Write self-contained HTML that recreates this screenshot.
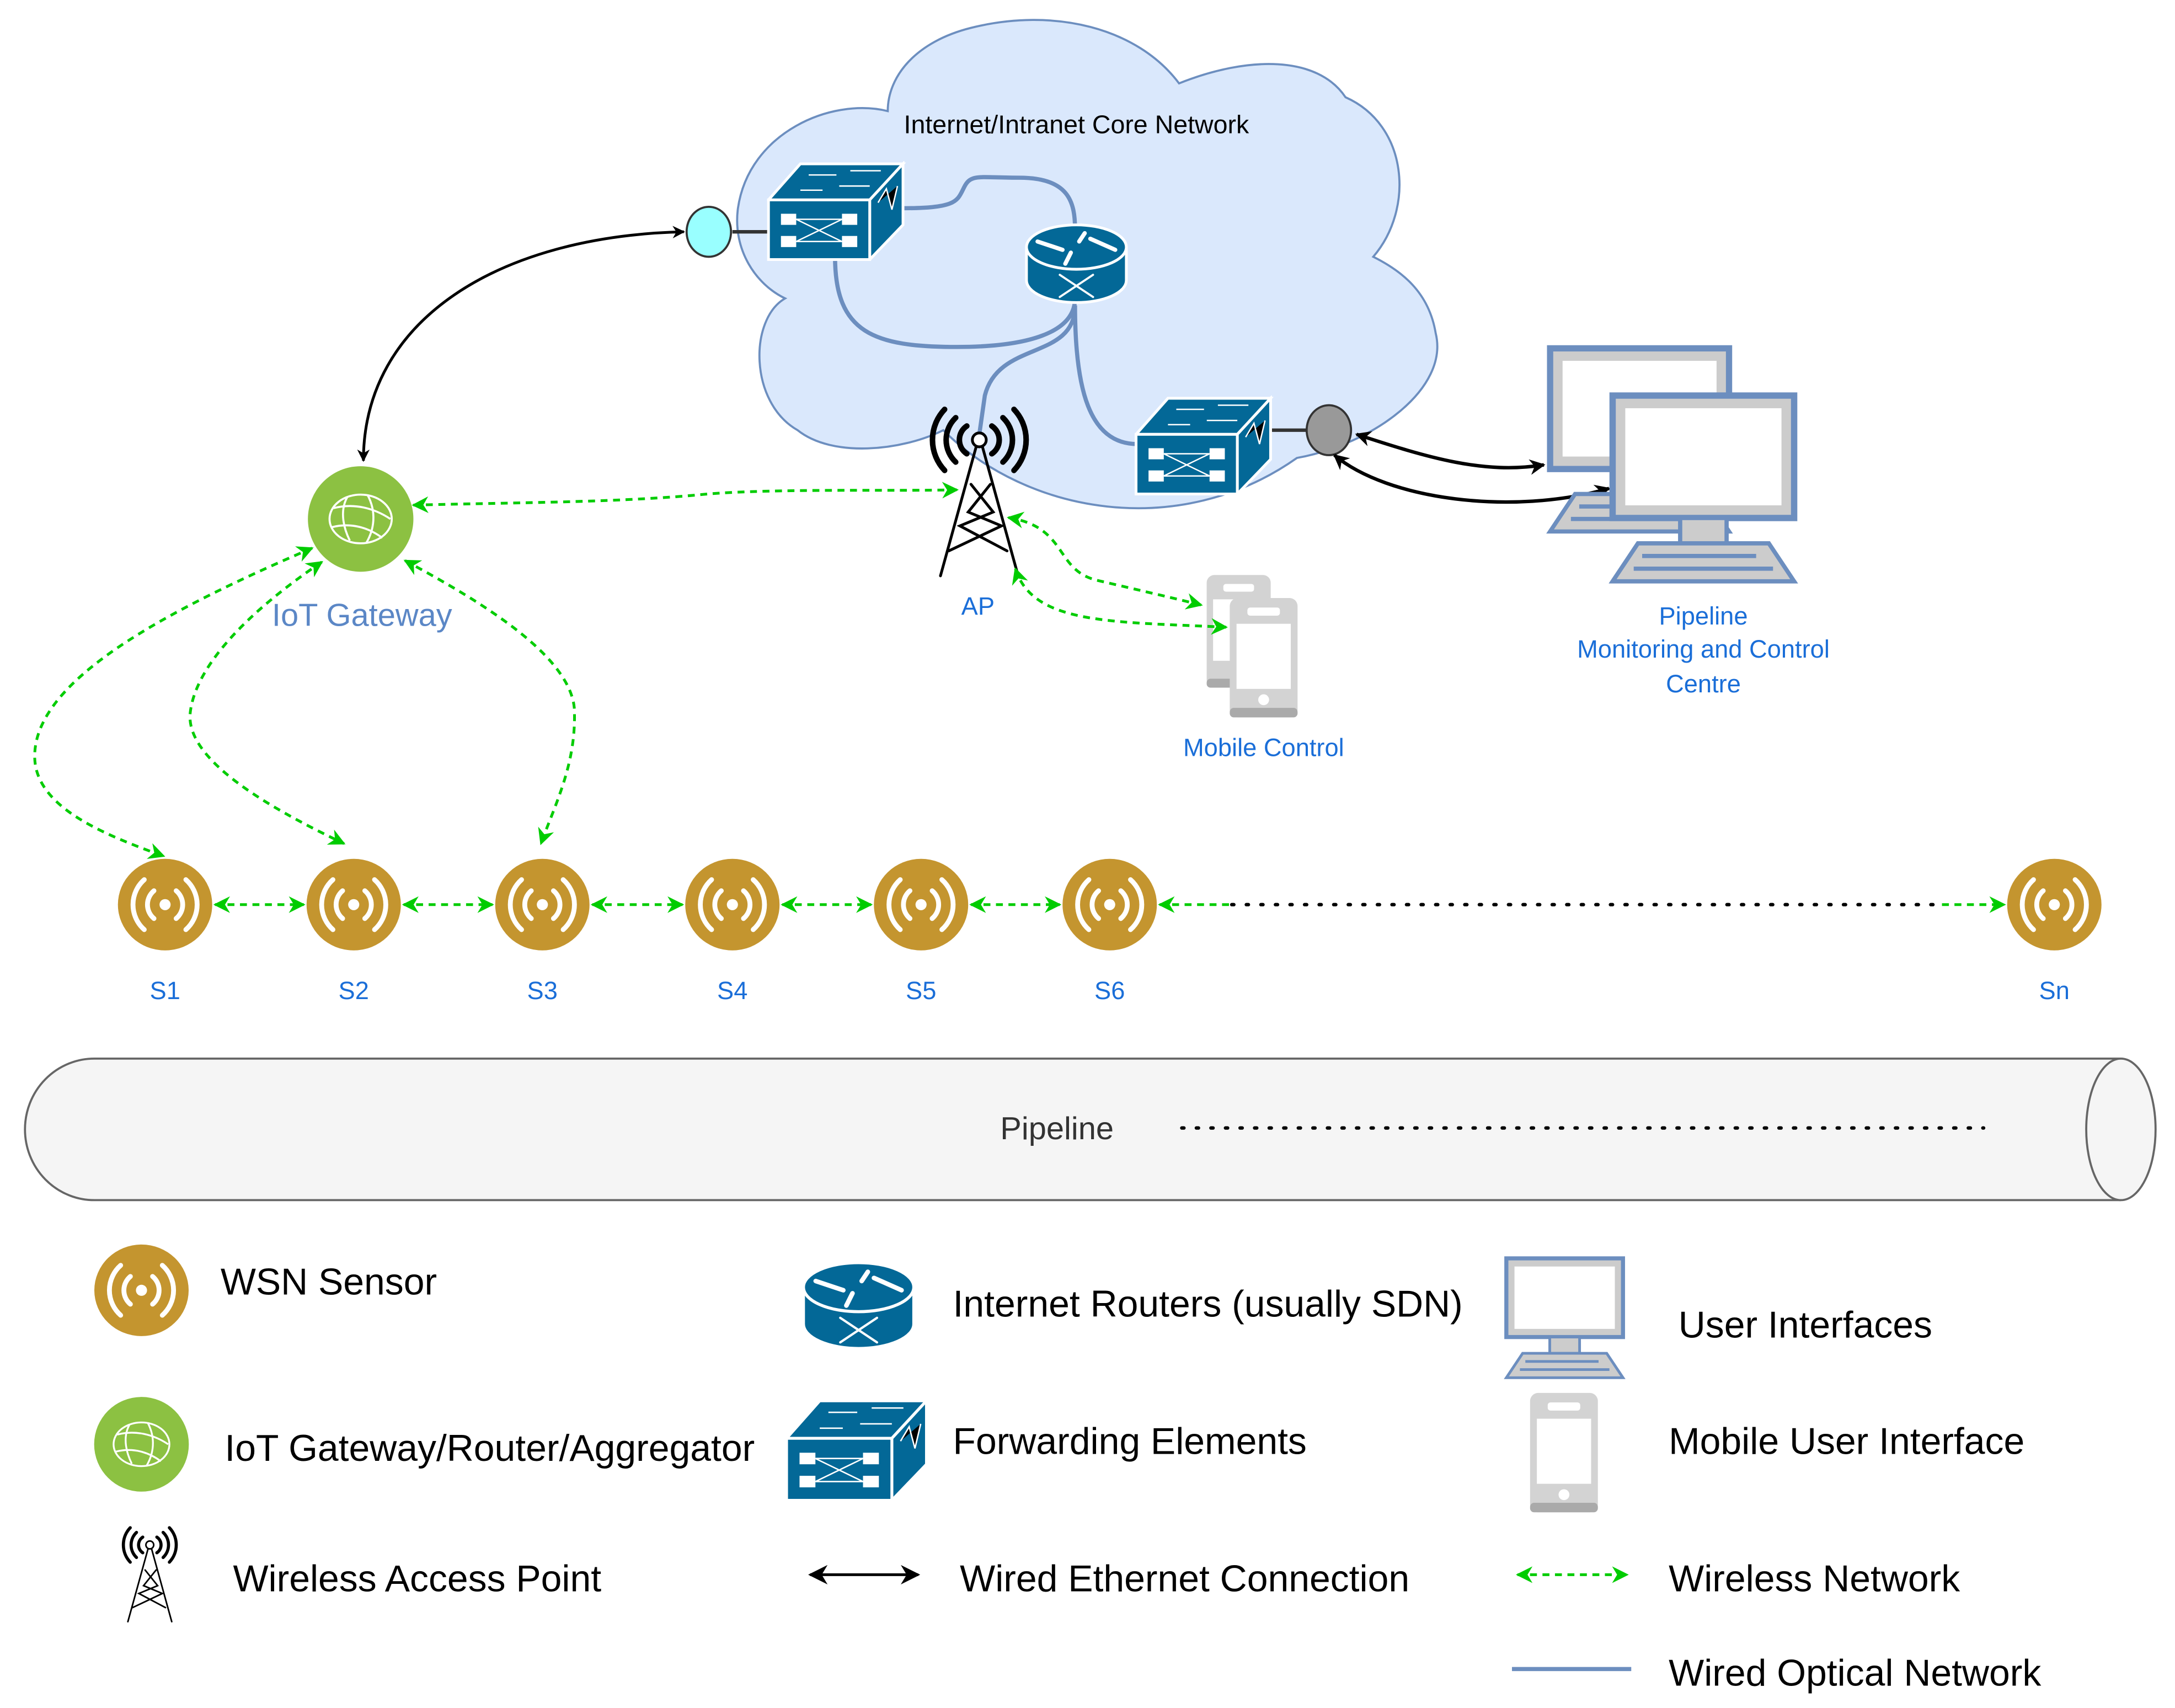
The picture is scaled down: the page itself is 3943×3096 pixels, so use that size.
<!DOCTYPE html>
<html><head><meta charset="utf-8"><style>
html,body{margin:0;padding:0;background:#fff;}
svg{display:block;}
text{font-family:"Liberation Sans",sans-serif;}
</style></head><body>
<svg width="3943" height="3096" viewBox="0 0 1568 1231" xmlns="http://www.w3.org/2000/svg">
<defs>
<marker id="ga" viewBox="0 0 10 10" refX="9" refY="5" markerWidth="6" markerHeight="6" orient="auto-start-reverse"><path d="M0,0 L10,5 L0,10 L3,5 z" fill="#00cc00"/></marker>
<marker id="ba2" viewBox="0 0 10 10" refX="9" refY="5" markerWidth="4.5" markerHeight="4.5" orient="auto-start-reverse"><path d="M0,0 L10,5 L0,10 L3,5 z" fill="#000"/></marker>
<marker id="ba3" viewBox="0 0 10 10" refX="9" refY="5" markerWidth="7" markerHeight="7" orient="auto-start-reverse"><path d="M0,0 L10,5 L0,10 L3,5 z" fill="#000"/></marker>
<symbol id="sensor" viewBox="-35 -34 70 68">
<ellipse cx="0" cy="0" rx="34" ry="33" fill="#c4952f"/>
<circle cx="0" cy="0" r="4" fill="#fff"/>
<g fill="none" stroke="#fff" stroke-width="3.5" stroke-linecap="round">
<path d="M-8,-10 A13,13 0 0 0 -8,10"/><path d="M8,-10 A13,13 0 0 1 8,10"/>
<path d="M-15,-18 A24,24 0 0 0 -15,18"/><path d="M15,-18 A24,24 0 0 1 15,18"/>
</g></symbol>
<symbol id="gw" viewBox="-40 -40 80 80">
<circle cx="0" cy="0" r="39" fill="#8cc142"/>
<g fill="none" stroke="#fff" stroke-width="1.5">
<ellipse cx="0" cy="0" rx="23" ry="18"/>
<path d="M-20,-8 C-5,-12 10,-8 22,0"/><path d="M-21,6 C-5,2 8,8 16,14"/>
<path d="M5,-18 C12,-5 10,8 4,18"/><path d="M-10,-16 C-16,-5 -12,8 -8,16"/>
</g></symbol>
<symbol id="sw" viewBox="0 0 100 72">
<g fill="#036897" stroke="#fff" stroke-width="2">
<polygon points="1,28 24,2 98,2 74,28"/>
<polygon points="74,28 98,2 98,46 74,71"/>
<rect x="1" y="28" width="73" height="43"/>
</g>
<g fill="#fff"><rect x="10" y="38" width="11" height="8"/><rect x="54" y="38" width="11" height="8"/><rect x="10" y="54" width="11" height="8"/><rect x="54" y="54" width="11" height="8"/></g>
<g stroke="#fff" stroke-width="1"><path d="M21,42 L54,58 M21,58 L54,42 M21,42 H54 M21,58 H54"/>
<path d="M30,10 H50 M60,7 H82 M24,21 H40 M52,18 H74"/><path d="M80,30 L86,20 L90,35 L94,18"/></g>
</symbol>
<symbol id="rt" viewBox="0 0 76 60">
<path d="M2,18 V42 A36,16 0 0 0 74,42 V18" fill="#036897" stroke="#fff" stroke-width="2"/>
<ellipse cx="38" cy="18" rx="36" ry="16" fill="#036897" stroke="#fff" stroke-width="2"/>
<g stroke="#fff" stroke-width="3" stroke-linecap="round"><path d="M10,14 L28,20 M48,12 L66,20 M44,8 L40,14 M34,22 L30,30"/>
<path d="M26,38 L50,54 M50,38 L26,54" stroke-width="1.5"/></g>
</symbol>
<symbol id="tower" viewBox="0 0 72 124">
<g fill="none" stroke="#000" stroke-linecap="round">
<g stroke-width="4"><path d="M27,14 A12,12 0 0 0 27,34"/><path d="M45,14 A12,12 0 0 1 45,34"/>
<path d="M19,8 A22,22 0 0 0 19,40"/><path d="M53,8 A22,22 0 0 1 53,40"/>
<path d="M11,2 A32,32 0 0 0 11,46"/><path d="M61,2 A32,32 0 0 1 61,46"/></g>
<g stroke-width="2"><path d="M34,28 L8,122 M38,28 L64,122 M30,56 L46,76 L22,86 L56,104 M44,56 L28,76 L52,86 L14,104"/></g>
</g><circle cx="36" cy="24" r="5" fill="#fff" stroke="#000" stroke-width="2"/>
</symbol>
<symbol id="mon" viewBox="0 0 90 92">
<rect x="2" y="2" width="86" height="58" fill="#ccc" stroke="#6c8ebf" stroke-width="3"/>
<rect x="8" y="8" width="74" height="46" fill="#fff"/>
<rect x="34" y="60" width="22" height="12" fill="#ccc" stroke="#6c8ebf" stroke-width="2"/>
<polygon points="14,72 76,72 88,90 2,90" fill="#ccc" stroke="#6c8ebf" stroke-width="2"/>
<path d="M16,78 H70 M12,84 H78" stroke="#6c8ebf" stroke-width="2"/>
</symbol>
<symbol id="phone" viewBox="0 0 52 90">
<rect x="1" y="1" width="50" height="88" rx="6" fill="#d3d3d3"/>
<rect x="1" y="82" width="50" height="7" rx="3" fill="#aaa"/>
<rect x="6" y="20" width="40" height="48" fill="#fff"/>
<rect x="14" y="8" width="24" height="6" rx="2" fill="#fff"/>
<circle cx="26" cy="76" r="4" fill="#fff"/>
</symbol>
</defs>

<path d="M640,80 C600,70 540,95 532,150 C528,180 545,205 566,215 C540,230 540,290 575,310 C600,330 650,325 680,310 C740,370 850,390 935,330 C990,320 1045,280 1035,240 C1030,210 1010,195 990,185 C1020,150 1015,90 970,70 C950,40 900,40 850,60 C820,20 760,5 700,20 C660,30 640,55 640,80 Z" fill="#dae8fc" stroke="#6c8ebf" stroke-width="1.5"/>
<text x="776" y="96" font-size="18.5" text-anchor="middle" fill="#000">Internet/Intranet Core Network</text>

<g fill="none" stroke="#6c8ebf" stroke-width="3">
<path d="M650,150 C690,150 690,145 695,135 C700,125 705,128 735,128 C770,128 775,145 775,165"/>
<path d="M602,185 C602,240 630,250 690,250 C740,250 775,240 775,215"/>
<path d="M775,220 C775,260 720,245 710,285 L705,320"/>
<path d="M775,220 C775,280 785,320 820,320"/>
</g>
<line x1="528" y1="167" x2="557" y2="167" stroke="#333" stroke-width="2.5"/>
<line x1="915" y1="310" x2="942" y2="310" stroke="#333" stroke-width="2.5"/>
<use href="#sw" x="553" y="116" width="100" height="72"/>
<use href="#sw" x="818" y="285" width="100" height="72"/>
<use href="#rt" x="738" y="160" width="76" height="60"/>
<ellipse cx="511" cy="167" rx="16" ry="18" fill="#99ffff" stroke="#333" stroke-width="1.5"/>
<ellipse cx="958" cy="310" rx="16" ry="18" fill="#999" stroke="#333" stroke-width="1.5"/>

<path d="M262,332 C262,230 360,170 493,167" fill="none" stroke="#000" stroke-width="2" marker-start="url(#ba2)" marker-end="url(#ba2)"/>
<path d="M978,313 C1030,330 1070,342 1113,335" fill="none" stroke="#000" stroke-width="2.5" marker-start="url(#ba2)" marker-end="url(#ba2)"/>
<path d="M962,328 C1000,360 1090,372 1160,352" fill="none" stroke="#000" stroke-width="2.5" marker-start="url(#ba2)" marker-end="url(#ba2)"/>

<use href="#tower" x="670" y="293" width="72" height="124"/>
<text x="705" y="443" font-size="18" text-anchor="middle" fill="#1a6ed8">AP</text>

<use href="#mon" x="1113" y="248" width="138" height="138"/>
<use href="#mon" x="1158" y="282" width="140" height="140"/>
<text font-size="18" text-anchor="middle" fill="#1a6ed8"><tspan x="1228" y="450">Pipeline</tspan><tspan x="1228" y="474">Monitoring and Control</tspan><tspan x="1228" y="499">Centre</tspan></text>

<use href="#phone" x="869" y="413" width="48" height="84"/>
<use href="#phone" x="885" y="430" width="52" height="88"/>
<text x="911" y="545" font-size="18" text-anchor="middle" fill="#1a6ed8">Mobile Control</text>

<use href="#gw" x="221" y="335" width="78" height="78"/>
<text x="261" y="451" font-size="23" text-anchor="middle" fill="#5b87c6">IoT Gateway</text>

<g fill="none" stroke="#00cc00" stroke-width="2" stroke-dasharray="5,4" marker-start="url(#ga)" marker-end="url(#ga)">
<path d="M298,364 C380,362 450,362 510,356 C560,352 640,354 690,353"/>
<path d="M727,373 C770,380 760,410 790,418 C820,425 850,432 866,436"/>
<path d="M732,410 C745,450 800,448 884,452"/>
<path d="M225,395 C120,440 25,490 25,545 C25,580 70,600 118,617"/>
<path d="M232,405 C180,440 140,480 137,515 C135,550 200,585 248,608"/>
<path d="M292,404 C340,430 410,470 414,510 C416,550 400,580 390,608"/>
<path d="M155,652 H219"/><path d="M291,652 H355"/><path d="M427,652 H492"/><path d="M564,652 H628"/><path d="M700,652 H764"/>
</g>
<path d="M836,652 H890" fill="none" stroke="#00cc00" stroke-width="2" stroke-dasharray="5,4" marker-start="url(#ga)"/>
<path d="M1400,652 H1445" fill="none" stroke="#00cc00" stroke-width="2" stroke-dasharray="5,4" marker-end="url(#ga)"/>
<line x1="888" y1="652" x2="1402" y2="652" stroke="#000" stroke-width="2.5" stroke-dasharray="1.5,9" stroke-linecap="round"/>

<g>
<use href="#sensor" x="84" y="618" width="70" height="68"/>
<use href="#sensor" x="220" y="618" width="70" height="68"/>
<use href="#sensor" x="356" y="618" width="70" height="68"/>
<use href="#sensor" x="493" y="618" width="70" height="68"/>
<use href="#sensor" x="629" y="618" width="70" height="68"/>
<use href="#sensor" x="765" y="618" width="70" height="68"/>
<use href="#sensor" x="1446" y="618" width="70" height="68"/>
</g>
<g font-size="18" text-anchor="middle" fill="#1a6ed8">
<text x="119" y="720">S1</text><text x="255" y="720">S2</text><text x="391" y="720">S3</text><text x="528" y="720">S4</text><text x="664" y="720">S5</text><text x="800" y="720">S6</text><text x="1481" y="720">Sn</text>
</g>

<path d="M1529,763 H68 A50,51 0 0 0 68,865 H1529" fill="#f5f5f5" stroke="#666" stroke-width="1.5"/>
<ellipse cx="1529" cy="814" rx="25" ry="51" fill="#f5f5f5" stroke="#666" stroke-width="1.5"/>
<text x="762" y="821" font-size="23" text-anchor="middle" fill="#333">Pipeline</text>
<line x1="852" y1="813" x2="1430" y2="813" stroke="#000" stroke-width="2.5" stroke-dasharray="1.5,9" stroke-linecap="round"/>

<use href="#sensor" x="67" y="896" width="70" height="68"/>
<text x="159" y="933" font-size="27" fill="#000">WSN Sensor</text>
<use href="#gw" x="67" y="1006" width="70" height="70"/>
<text x="162" y="1053" font-size="27" fill="#000">IoT Gateway/Router/Aggregator</text>
<use href="#tower" x="80" y="1100" width="56" height="70"/>
<text x="168" y="1147" font-size="27" fill="#000">Wireless Access Point</text>

<use href="#rt" x="577" y="905" width="84" height="72"/>
<text x="687" y="949" font-size="27" fill="#000">Internet Routers (usually SDN)</text>
<use href="#sw" x="566" y="1004" width="104" height="82"/>
<text x="687" y="1048" font-size="27" fill="#000">Forwarding Elements</text>
<line x1="584" y1="1135" x2="662" y2="1135" stroke="#000" stroke-width="2" marker-start="url(#ba3)" marker-end="url(#ba3)"/>
<text x="692" y="1147" font-size="27" fill="#000">Wired Ethernet Connection</text>

<use href="#mon" x="1084" y="904" width="88" height="92"/>
<text x="1210" y="964" font-size="27" fill="#000">User Interfaces</text>
<use href="#phone" x="1101" y="1003" width="53" height="88"/>
<text x="1203" y="1048" font-size="27" fill="#000">Mobile User Interface</text>
<line x1="1094" y1="1135" x2="1173" y2="1135" stroke="#00cc00" stroke-width="2" stroke-dasharray="5,4" marker-start="url(#ga)" marker-end="url(#ga)"/>
<text x="1203" y="1147" font-size="27" fill="#000">Wireless Network</text>
<line x1="1090" y1="1203" x2="1176" y2="1203" stroke="#6c8ebf" stroke-width="3"/>
<text x="1203" y="1215" font-size="27" fill="#000">Wired Optical Network</text>
</svg>
</body></html>
